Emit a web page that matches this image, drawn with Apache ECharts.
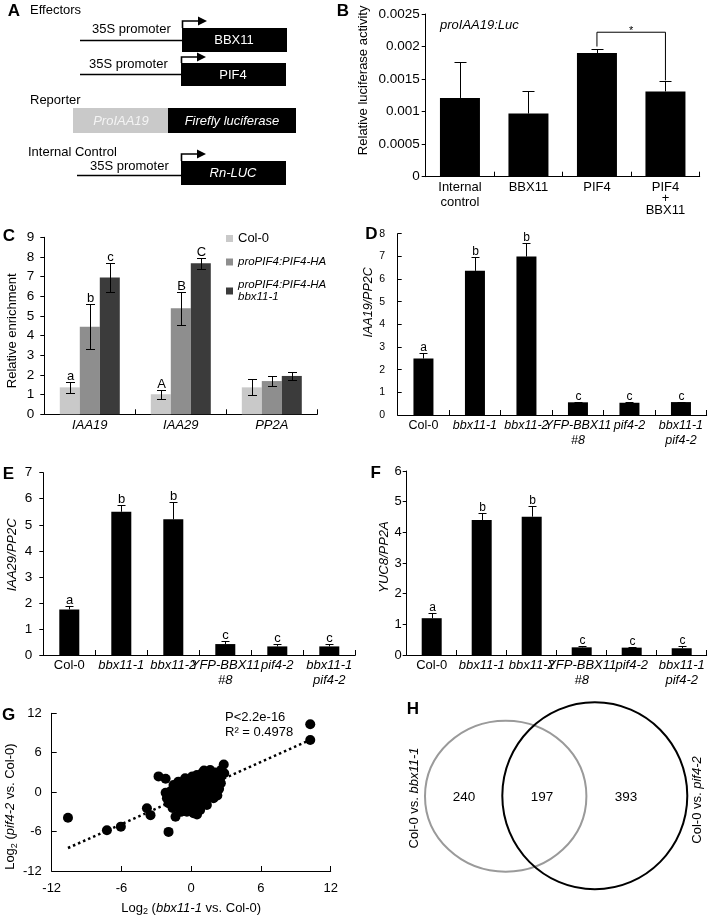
<!DOCTYPE html>
<html><head><meta charset="utf-8">
<script src="https://cdn.jsdelivr.net/npm/echarts@6/dist/echarts.min.js"></script>
<style>html,body{margin:0;padding:0;background:#fff}#c{width:708px;height:917px}</style>
</head><body><div id="c"></div>
<script>
const FONT = '"Liberation Sans", Arial, Helvetica, sans-serif';

// ---------- Panel B data ----------
const bCategories = ['Internal\ncontrol', 'BBX11', 'PIF4', 'PIF4\n+\nBBX11'];
const bValues = [0.00121, 0.00097, 0.0019, 0.00131];
const bErrors = [0.00056, 0.00035, 0.00006, 0.00016];
const bBracket = [[2, 3, 0.002, 0.00148, 0.00222]]; // from, to, left end, right end, top (data units)
const bBracketLabel = '*';

// ---------- Panel C data ----------
const cCategories = ['IAA19', 'IAA29', 'PP2A'];
const cSeriesNames = ['Col-0', 'proPIF4:PIF4-HA', 'proPIF4:PIF4-HA bbx11-1'];
const cCol0 = [1.37, 1.02, 1.37];
const cCol0Err = [0.28, 0.22, 0.40];
const cCol0Letters = ['a', 'A', ''];
const cPif4Ha = [4.45, 5.39, 1.69];
const cPif4HaErr = [1.15, 0.84, 0.27];
const cPif4HaLetters = ['b', 'B', ''];
const cPif4HaBbx = [6.95, 7.68, 1.95];
const cPif4HaBbxErr = [0.73, 0.28, 0.22];
const cPif4HaBbxLetters = ['c', 'C', ''];

// ---------- Panels D/E/F data ----------
const genotypes = ['Col-0', 'bbx11-1', 'bbx11-2', 'YFP-BBX11\n#8', 'pif4-2', 'bbx11-1\npif4-2'];
const dValues = [2.49, 6.36, 6.99, 0.56, 0.54, 0.57];
const dErrors = [0.26, 0.63, 0.61, 0.03, 0.02, 0.02];
const dLetters = ['a', 'b', 'b', 'c', 'c', 'c'];
const eValues = [1.75, 5.50, 5.21, 0.42, 0.33, 0.33];
const eErrors = [0.13, 0.26, 0.68, 0.12, 0.10, 0.08];
const eLetters = ['a', 'b', 'b', 'c', 'c', 'c'];
const fValues = [1.20, 4.40, 4.51, 0.25, 0.24, 0.22];
const fErrors = [0.18, 0.24, 0.36, 0.05, 0.02, 0.07];
const fLetters = ['a', 'b', 'b', 'c', 'c', 'c'];

// ---------- Panel G data ----------
const gPoints = [
  [-10.6, -3.9], [-7.25, -5.8], [-6.05, -5.25], [-1.95, -6.05], [10.24, 10.34], [10.24, 7.95],
  [-2.81, 2.4], [-2.2, 2.05], [-3.81, -2.45], [-3.5, -3.5], [-1.35, -3.75],
  [2.8, 4.2], [2.84, 2.88], [2.55, 1.35], [2.4, 0.5], [2.25, -0.5],
  [-0.52, 2.1], [-1.52, 1.1], [-1.81, 0.08], [-2.09, -0.93], [-1.95, -1.69], [-1.23, -1.95],
  [-0.37, -2.97], [0.2, -3.21], [0.77, -2.71], [1.35, -1.95], [1.92, -0.93], [0.49, 2.62],
  [0.92, 2.88], [1.35, 2.62], [0.2, 1.6], [-0.66, 0.59], [-0.95, -0.43], [-0.09, -0.43],
  [0.49, 0.08], [1.06, 0.59], [1.63, 1.1], [0.77, -0.93], [0.2, -1.69], [-0.52, -1.45],
  [-1.38, -0.69], [1.63, 0.08], [-0.09, -2.45], [0.92, 1.6], [1.92, 2.36], [1.63, 3.38], [2.49, 2.1],
  [-1.7, -0.5], [-1.5, -1.2], [-1.0, 0.3], [-0.8, 1.3], [-0.3, 1.2], [-0.2, 0.2], [0.0, -1.0],
  [0.3, -2.2], [0.5, -1.3], [0.6, 1.2], [0.9, 0.2], [1.1, -0.4], [1.2, -1.3], [1.3, 1.9],
  [1.5, 0.6], [1.8, 1.6], [2.0, 0.5], [2.1, 3.0], [1.1, 3.3], [0.6, 2.0], [-0.3, -0.9],
  [-0.7, -2.2], [-1.0, -1.2], [0.0, 0.9], [0.3, -0.5], [-1.2, 0.6], [-0.5, -0.2], [1.4, -0.8],
  [0.8, -1.8], [-2.2, -0.1], [-1.6, -2.4], [-1.1, 1.6], [0.1, 2.4], [1.9, -0.2], [2.3, 1.8],
  [-0.9, -3.0], [0.5, -3.4], [2.6, 3.4]
];
const gTrend = [[-10.6, -8.5], [10.24, 7.95]];
const gStats = ['P<2.2e-16', 'R² = 0.4978'];

// ---------- Panel H data ----------
const vennCounts = [240, 197, 393];
const vennLabels = ['{n|Col-0 vs. }{i|bbx11-1}', '{n|Col-0 vs. }{i|pif4-2}'];

// ---------- helpers ----------
const BLACK = '#000';
function catAxis(gi, data, labelOpts) {
  return {
    type: 'category', gridIndex: gi, data: data,
    axisLine: { show: true, lineStyle: { color: BLACK, width: 1 } },
    axisTick: { show: true, inside: true, length: 5, lineStyle: { color: BLACK } },
    splitLine: { show: false },
    axisLabel: Object.assign({ interval: 0, hideOverlap: false, color: BLACK, fontFamily: FONT }, labelOpts)
  };
}
function valAxis(gi, min, max, interval, extra) {
  return Object.assign({
    type: 'value', gridIndex: gi, min: min, max: max, interval: interval,
    axisLine: { show: true, onZero: false, lineStyle: { color: BLACK, width: 1 } },
    axisTick: { show: true, inside: false, length: 4, lineStyle: { color: BLACK } },
    splitLine: { show: false }
  }, extra);
}
function errSeries(gi, values, errs, letters, offset, capW, both, letterSize) {
  return {
    type: 'custom', xAxisIndex: gi, yAxisIndex: gi, z: 10, clip: false, silent: true,
    data: values.map((v, k) => [k, v, errs[k]]),
    renderItem: function (params, api) {
      const k = api.value(0), v = api.value(1), e = api.value(2);
      const base = api.coord([k, v]);
      const top = api.coord([k, v + e]);
      const low = api.coord([k, v - e]);
      const x = Math.round(base[0] + offset) + 0.5;
      const ty = Math.round(top[1]) + 0.5;
      const ly = Math.round(low[1]) + 0.5;
      const st = { stroke: BLACK, lineWidth: 1 };
      const ch = [
        { type: 'line', shape: { x1: x, y1: both ? ly : base[1], x2: x, y2: ty }, style: st },
        { type: 'line', shape: { x1: x - capW / 2, y1: ty, x2: x + capW / 2, y2: ty }, style: st }
      ];
      if (both) ch.push({ type: 'line', shape: { x1: x - capW / 2, y1: ly, x2: x + capW / 2, y2: ly }, style: st });
      const lt = letters ? letters[params.dataIndex] : '';
      if (lt) ch.push({
        type: 'text', x: x, y: ty,
        style: { text: lt, fontSize: letterSize, fontFamily: FONT, fill: BLACK,
                 align: 'center', verticalAlign: 'bottom', textAlign: 'center', textVerticalAlign: 'bottom' }
      });
      return { type: 'group', children: ch };
    }
  };
}
function barSeries(gi, name, values, color, width) {
  return { type: 'bar', name: name, xAxisIndex: gi, yAxisIndex: gi, data: values, barWidth: width,
           barGap: '0%', itemStyle: { color: color }, silent: true };
}
function genoLabel(v) {
  return v.split('\n').map(s => s === 'Col-0' ? '{n|' + s + '}' : '{i|' + s + '}').join('\n');
}
function txt(x, y, text, o) {
  o = o || {};
  return { type: 'text', x: x, y: y, rotation: o.rot || 0, z: 100,
    style: Object.assign({ text: text, fontFamily: FONT, fontSize: o.size || 13, fill: o.fill || BLACK,
      fontStyle: o.italic ? 'italic' : 'normal', fontWeight: o.bold ? 'bold' : 'normal',
      align: o.align || 'left', verticalAlign: 'middle',
      textAlign: o.align || 'left', textVerticalAlign: 'middle' }, o.rich ? { rich: o.rich } : {}) };
}
function ln(x1, y1, x2, y2, w) {
  return { type: 'line', shape: { x1: x1, y1: y1, x2: x2, y2: y2 }, style: { stroke: BLACK, lineWidth: w || 1.5 } };
}
function rc(x, y, w, h, fill) {
  return { type: 'rect', shape: { x: x, y: y, width: w, height: h }, style: { fill: fill } };
}
function arrow(x, y0, y1, tip) {
  return [
    { type: 'polyline', shape: { points: [[x, y0], [x, y1], [tip - 8, y1]] }, style: { stroke: BLACK, lineWidth: 1.6, fill: null } },
    { type: 'polygon', shape: { points: [[tip - 9, y1 - 4.5], [tip, y1], [tip - 9, y1 + 4.5]] }, style: { fill: BLACK } }
  ];
}

const rI = { fontFamily: FONT, fontStyle: 'italic', fontSize: 13, color: BLACK };
const rN = { fontFamily: FONT, fontSize: 13, color: BLACK };

// ---------- graphics (panel A schematic, panel letters, annotations, Venn) ----------
const graphics = [].concat(
  [
    txt(14, 11, 'A', { size: 17, bold: true, align: 'center' }),
    txt(343, 11, 'B', { size: 17, bold: true, align: 'center' }),
    txt(9, 236.5, 'C', { size: 17, bold: true, align: 'center' }),
    txt(371.5, 234, 'D', { size: 17, bold: true, align: 'center' }),
    txt(8.5, 474, 'E', { size: 17, bold: true, align: 'center' }),
    txt(375.7, 473, 'F', { size: 17, bold: true, align: 'center' }),
    txt(8.5, 715, 'G', { size: 17, bold: true, align: 'center' }),
    txt(413, 709, 'H', { size: 17, bold: true, align: 'center' }),
    // Panel A
    txt(30, 10, 'Effectors'),
    ln(80, 40.5, 182, 40.5),
    txt(92, 29, '35S promoter'),
    rc(182, 28, 105, 24, BLACK),
    txt(234, 40, 'BBX11', { fill: '#fff', align: 'center' }),
    ln(80, 74.5, 181, 74.5),
    txt(89, 64, '35S promoter'),
    rc(181, 63, 105, 23, BLACK),
    txt(233, 75, 'PIF4', { fill: '#fff', align: 'center' }),
    txt(30, 100, 'Reporter'),
    rc(73, 108, 95, 25, '#c9c9c9'),
    rc(168, 108, 128, 25, BLACK),
    txt(121, 121, 'ProIAA19', { fill: '#f4f4f4', align: 'center', italic: true }),
    txt(232, 121, 'Firefly luciferase', { fill: '#fff', align: 'center', italic: true }),
    txt(28, 152, 'Internal Control'),
    ln(77, 175.5, 181, 175.5),
    txt(90, 166, '35S promoter'),
    rc(181, 161, 105, 24, BLACK),
    txt(233, 173, 'Rn-LUC', { fill: '#fff', align: 'center', italic: true }),
    // Panel B annotation
    txt(440, 25, 'proIAA19:Luc', { italic: true }),
    // Panel G annotation
    txt(225, 717, gStats[0]),
    txt(225, 732, gStats[1]),
    // Panel H Venn
    { type: 'ellipse', shape: { cx: 505.7, cy: 796.2, rx: 80.7, ry: 75.5 }, style: { fill: null, stroke: '#9a9a9a', lineWidth: 2 } },
    { type: 'ellipse', shape: { cx: 594.8, cy: 795.8, rx: 92.5, ry: 93.5 }, style: { fill: null, stroke: BLACK, lineWidth: 2 } },
    txt(464, 797, String(vennCounts[0]), { align: 'center', size: 13.5 }),
    txt(542, 797, String(vennCounts[1]), { align: 'center', size: 13.5 }),
    txt(626, 797, String(vennCounts[2]), { align: 'center', size: 13.5 }),
    txt(414, 798, vennLabels[0], { align: 'center', rot: Math.PI / 2, rich: { n: rN, i: rI } }),
    txt(697, 800, vennLabels[1], { align: 'center', rot: Math.PI / 2, rich: { n: rN, i: rI } })
  ],
  arrow(182.5, 28, 21, 207),
  arrow(181.5, 63, 57, 206),
  arrow(181.5, 161, 154, 206)
);

const gridBase = { containLabel: false, outerBoundsMode: 'none' };
const option = {
  animation: false,
  textStyle: { fontFamily: FONT, color: BLACK },
  grid: [
    Object.assign({ left: 425.7, top: 14, width: 274, height: 162.7 }, gridBase),
    Object.assign({ left: 44.3, top: 237.3, width: 273, height: 177 }, gridBase),
    Object.assign({ left: 397.7, top: 233.7, width: 309, height: 181.3 }, gridBase),
    Object.assign({ left: 43.3, top: 472.7, width: 312, height: 182.3 }, gridBase),
    Object.assign({ left: 406.7, top: 471, width: 300, height: 184 }, gridBase),
    Object.assign({ left: 51.7, top: 713.3, width: 279, height: 157.7 }, gridBase)
  ],
  legend: {
    data: cSeriesNames, orient: 'vertical', left: 221, top: 227, itemWidth: 7, itemHeight: 7, itemGap: 11,
    icon: 'rect', selectedMode: false,
    formatter: function (name) {
      if (name === 'Col-0') return '{n|Col-0}';
      return name.split(' ').map(p => '{i|' + p + '}').join('\n');
    },
    textStyle: { rich: {
      n: { fontFamily: FONT, fontSize: 13, color: BLACK },
      i: { fontFamily: FONT, fontSize: 11.5, fontStyle: 'italic', color: BLACK, lineHeight: 12 }
    } }
  },
  xAxis: [
    catAxis(0, bCategories, {
      margin: 3, fontSize: 13,
      formatter: function (v) {
        const l = v.split('\n');
        if (l.length === 3) return '{p|' + l[0] + '}\n{q|' + l[1] + '}\n{r|' + l[2] + '}';
        return l.map(s => '{n|' + s + '}').join('\n');
      },
      rich: {
        n: { fontFamily: FONT, fontSize: 13, lineHeight: 15, color: BLACK },
        p: { fontFamily: FONT, fontSize: 13, lineHeight: 15, color: BLACK },
        q: { fontFamily: FONT, fontSize: 13, lineHeight: 8, color: BLACK },
        r: { fontFamily: FONT, fontSize: 13, lineHeight: 15, color: BLACK }
      }
    }),
    catAxis(1, cCategories, { margin: 5, fontSize: 13, fontStyle: 'italic' }),
    catAxis(2, genotypes, { margin: 3, formatter: genoLabel,
      rich: { n: { fontFamily: FONT, fontSize: 12.5, lineHeight: 15, color: BLACK },
              i: { fontFamily: FONT, fontSize: 12.5, lineHeight: 15, fontStyle: 'italic', color: BLACK } } }),
    catAxis(3, genotypes, { margin: 3, formatter: genoLabel,
      rich: { n: { fontFamily: FONT, fontSize: 13, lineHeight: 15, color: BLACK },
              i: { fontFamily: FONT, fontSize: 13, lineHeight: 15, fontStyle: 'italic', color: BLACK } } }),
    catAxis(4, genotypes, { margin: 3, formatter: genoLabel,
      rich: { n: { fontFamily: FONT, fontSize: 13, lineHeight: 15, color: BLACK },
              i: { fontFamily: FONT, fontSize: 13, lineHeight: 15, fontStyle: 'italic', color: BLACK } } }),
    valAxis(5, -12, 12, 6, {
      axisTick: { show: true, inside: true, length: 5, lineStyle: { color: BLACK } },
      axisLabel: { margin: 11, fontSize: 13, color: BLACK, fontFamily: FONT },
      name: '{n|Log}{s|2}{n| (}{i|bbx11-1}{n| vs. Col-0)}', nameLocation: 'middle', nameGap: 29,
      nameTextStyle: { rich: {
        n: { fontFamily: FONT, fontSize: 13, lineHeight: 16, color: BLACK },
        i: { fontFamily: FONT, fontSize: 13, lineHeight: 16, fontStyle: 'italic', color: BLACK },
        s: { fontFamily: FONT, fontSize: 9, lineHeight: 9, verticalAlign: 'bottom', color: BLACK } } }
    })
  ],
  yAxis: [
    valAxis(0, 0, 0.0025, 0.0005, {
      axisLabel: { margin: 6, fontSize: 13.5, color: BLACK, fontFamily: FONT,
        formatter: v => String(+v.toFixed(4)) },
      name: 'Relative luciferase activity', nameLocation: 'middle', nameRotate: 90, nameGap: 56,
      nameTextStyle: { fontSize: 13, fontFamily: FONT, color: BLACK, padding: [0, 0, 0, 30] }
    }),
    valAxis(1, 0, 9, 1, {
      axisLabel: { margin: 10, fontSize: 13.5, color: BLACK, fontFamily: FONT },
      name: 'Relative enrichment', nameLocation: 'middle', nameRotate: 90, nameGap: 25.5,
      nameTextStyle: { fontSize: 13, fontFamily: FONT, color: BLACK, padding: [0, 10, 0, 0] }
    }),
    valAxis(2, 0, 8, 1, {
      axisTick: { show: true, inside: true, length: 4, lineStyle: { color: BLACK } },
      axisLabel: { margin: 12.5, fontSize: 10.5, color: BLACK, fontFamily: FONT },
      name: 'IAA19/PP2C', nameLocation: 'middle', nameRotate: 90, nameGap: 21.5,
      nameTextStyle: { fontSize: 12.5, fontStyle: 'italic', fontFamily: FONT, color: BLACK, padding: [0, 0, 0, 44] }
    }),
    valAxis(3, 0, 7, 1, {
      axisLabel: { margin: 11, fontSize: 13.5, color: BLACK, fontFamily: FONT },
      name: 'IAA29/PP2C', nameLocation: 'middle', nameRotate: 90, nameGap: 24,
      nameTextStyle: { fontSize: 13, fontStyle: 'italic', fontFamily: FONT, color: BLACK, padding: [0, 0, 0, 18] }
    }),
    valAxis(4, 0, 6, 1, {
      axisLabel: { margin: 5, fontSize: 13, color: BLACK, fontFamily: FONT },
      name: 'YUC8/PP2A', nameLocation: 'middle', nameRotate: 90, nameGap: 11.5,
      nameTextStyle: { fontSize: 13, fontStyle: 'italic', fontFamily: FONT, color: BLACK, padding: [0, 0, 0, 12] }
    }),
    valAxis(5, -12, 12, 6, {
      axisTick: { show: true, inside: true, length: 5, lineStyle: { color: BLACK } },
      axisLabel: { margin: 10, fontSize: 13, color: BLACK, fontFamily: FONT },
      name: '{n|Log}{s|2}{n| (}{i|pif4-2}{n| vs. Col-0)}', nameLocation: 'middle', nameRotate: 90, nameGap: 33,
      nameTextStyle: { padding: [0, 29, 0, 0], rich: {
        n: { fontFamily: FONT, fontSize: 13, lineHeight: 16, color: BLACK },
        i: { fontFamily: FONT, fontSize: 13, lineHeight: 16, fontStyle: 'italic', color: BLACK },
        s: { fontFamily: FONT, fontSize: 9, lineHeight: 9, verticalAlign: 'bottom', color: BLACK } } }
    })
  ],
  series: [
    // B
    barSeries(0, 'B', bValues, BLACK, 40),
    errSeries(0, bValues, bErrors, null, 0, 12, false, 11),
    {
      type: 'custom', xAxisIndex: 0, yAxisIndex: 0, z: 10, clip: false, silent: true,
      data: bBracket,
      renderItem: function (params, api) {
        const pL = api.coord([api.value(0), api.value(2)]);
        const pR = api.coord([api.value(1), api.value(3)]);
        const pT = api.coord([api.value(0), api.value(4)]);
        return { type: 'group', children: [
          { type: 'polyline', shape: { points: [[pL[0], pL[1]], [pL[0], pT[1]], [pR[0], pT[1]], [pR[0], pR[1]]] },
            style: { stroke: BLACK, lineWidth: 1, fill: null } },
          { type: 'text', x: (pL[0] + pR[0]) / 2, y: pT[1] - 1,
            style: { text: bBracketLabel, fontSize: 11, fontFamily: FONT, fill: BLACK,
                     align: 'center', verticalAlign: 'middle', textAlign: 'center', textVerticalAlign: 'middle' } }
        ] };
      }
    },
    // C
    barSeries(1, cSeriesNames[0], cCol0, '#c9c9c9', 20),
    barSeries(1, cSeriesNames[1], cPif4Ha, '#8e8e8e', 20),
    barSeries(1, cSeriesNames[2], cPif4HaBbx, '#3b3b3b', 20),
    errSeries(1, cCol0, cCol0Err, cCol0Letters, -20, 9, true, 13),
    errSeries(1, cPif4Ha, cPif4HaErr, cPif4HaLetters, 0, 9, true, 13),
    errSeries(1, cPif4HaBbx, cPif4HaBbxErr, cPif4HaBbxLetters, 20, 9, true, 13),
    // D
    barSeries(2, 'D', dValues, BLACK, 20),
    errSeries(2, dValues, dErrors, dLetters, 0, 8, false, 12),
    // E
    barSeries(3, 'E', eValues, BLACK, 20),
    errSeries(3, eValues, eErrors, eLetters, 0, 8, false, 13),
    // F
    barSeries(4, 'F', fValues, BLACK, 20),
    errSeries(4, fValues, fErrors, fLetters, 0, 8, false, 12),
    // G
    { type: 'line', xAxisIndex: 5, yAxisIndex: 5, data: gTrend, symbol: 'none', silent: true, z: 1,
      lineStyle: { color: BLACK, width: 2.5, type: [2.5, 3] } },
    { type: 'scatter', xAxisIndex: 5, yAxisIndex: 5, data: gPoints, symbol: 'circle', symbolSize: 10,
      itemStyle: { color: BLACK, opacity: 1 }, silent: true, z: 2 }
  ],
  graphic: { elements: graphics }
};

const chart = echarts.init(document.getElementById('c'), null, { renderer: 'canvas' });
chart.setOption(option);
</script>
</body></html>
